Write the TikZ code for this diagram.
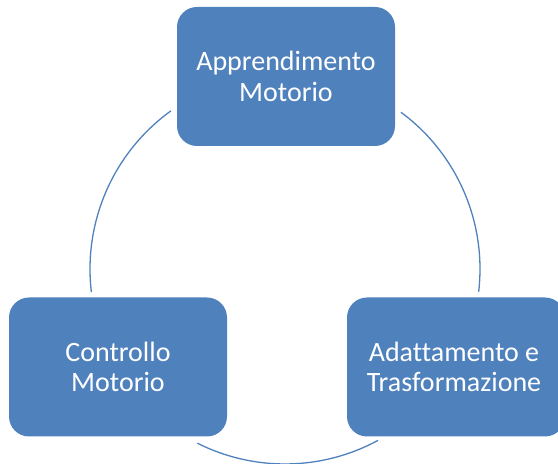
\documentclass[tikz,border=0pt]{standalone}
\usepackage{fontspec}
\setmainfont{Carlito}[Ligatures=NoCommon]
\usetikzlibrary{calc}
\definecolor{boxblue}{HTML}{4F81BD}
\tikzset{
  cyclebox/.style={draw=none, fill=boxblue, text=white, rounded corners=20pt,
    minimum width=218pt, minimum height=139pt, inner sep=0pt, align=center,
    font=\fontsize{28}{30.5}\selectfont},
  cyclearc/.style={draw=boxblue, line width=1.3pt}
}
\begin{document}
\begin{tikzpicture}[x=1pt,y=1pt]
\useasboundingbox (0,0) rectangle (558,464);
\clip (0,0) rectangle (558,464);
\coordinate (c) at (285,195);
\node[cyclebox] (top) at (286,387.5) {Apprendimento\\Motorio};
\node[cyclebox] (right) at (456,97) {};
\node[text=white, align=center, font=\fontsize{28}{30.5}\selectfont, inner sep=0pt] (rightlabel) at (454,97) {Adattamento e\\Trasformazione};
\node[cyclebox] (left) at (118,97) {Controllo\\Motorio};
\coordinate (a1) at ($(c)+(53.5:195)$);
\coordinate (a2) at ($(c)+(-61.5:195)$);
\coordinate (a3) at ($(c)+(186.8:195)$);
\draw[cyclearc] (a1) arc[start angle=53.5, end angle=-6.7, radius=195];
\draw[cyclearc] (a2) arc[start angle=-61.5, end angle=-116.7, radius=195];
\draw[cyclearc] (a3) arc[start angle=186.8, end angle=125.8, radius=195];
\end{tikzpicture}
\end{document}
